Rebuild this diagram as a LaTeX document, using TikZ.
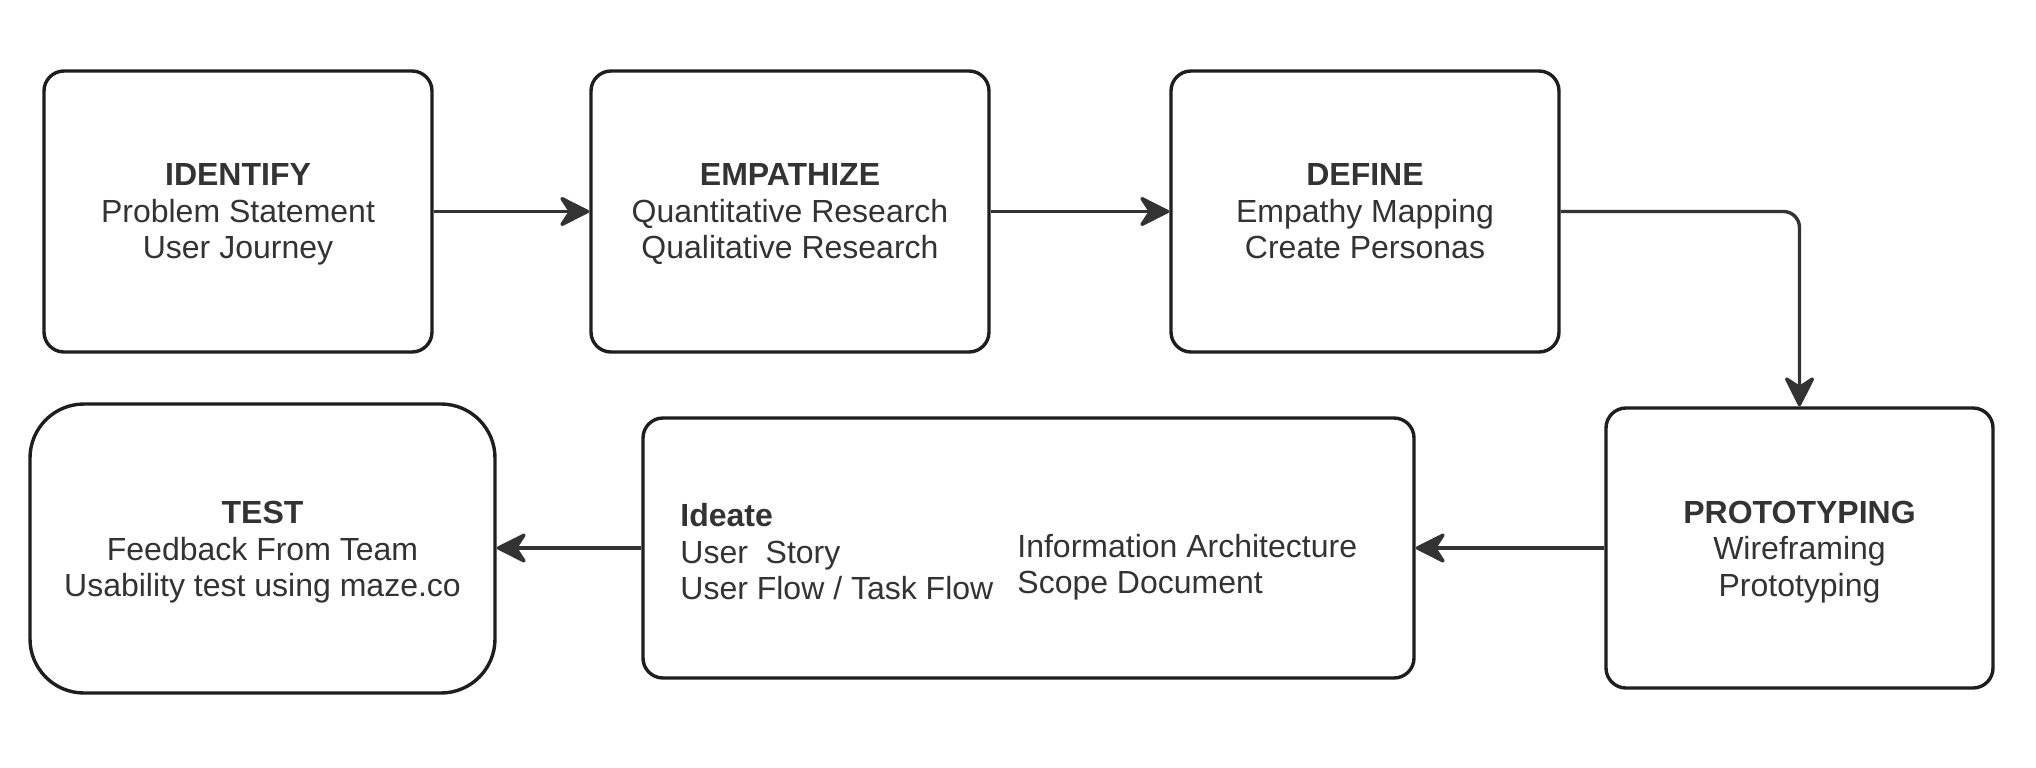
\documentclass[tikz,border=0pt]{standalone}
\usepackage{fontspec}
\setmainfont{Liberation Sans}
\usetikzlibrary{arrows.meta}
\definecolor{ink}{HTML}{333333}
\definecolor{edge}{HTML}{1E1E1E}
\tikzset{
  box/.style={draw=edge, line width=1.7pt, rectangle, rounded corners=10pt, inner sep=0pt,
    text=ink, align=center, font=\fontsize{16}{18.25}\selectfont},
  txt/.style={inner sep=0pt, text=ink, align=left, font=\fontsize{16}{18.25}\selectfont},
  arr/.style={draw=ink, line width=1.7pt, line join=round,
    -{Stealth[length=17pt, width=17pt, inset=5.5pt, round]}}
}
\begin{document}
\begin{tikzpicture}[x=0.5pt, y=-0.5pt]
\useasboundingbox[fill=white] (0,0) rectangle (2036,767);
\node[box, minimum width=194pt, minimum height=140.5pt] (identify) at (238,211.5) {};
\node[box, minimum width=199pt, minimum height=140.5pt] (empathize) at (790,211.5) {};
\node[box, minimum width=194pt, minimum height=140.5pt] (define) at (1365,211.5) {};
\node[box, minimum width=193.5pt, minimum height=140pt] (proto) at (1799.5,548) {};
\node[box, minimum width=385.5pt, minimum height=130pt] (ideate) at (1028.5,548) {};
\node[box, rounded corners=27pt, minimum width=232.5pt, minimum height=144.5pt] (test) at (262.5,548.5) {};
\node[txt, align=center] (identifyT) at (238,214.5)
  {\textbf{IDENTIFY}\\Problem Statement\\User Journey};
\node[txt, align=center] (empathizeT) at (790,214.5)
  {\textbf{EMPATHIZE}\\Quantitative Research\\Qualitative Research};
\node[txt, align=center] (defineT) at (1365,214.5)
  {\textbf{DEFINE}\\Empathy Mapping\\Create Personas\vphantom{y}};
\node[txt, align=center] (protoT) at (1799.5,552)
  {\textbf{PROTOTYPING}\\Wireframing\\Prototyping};
\node[txt, align=center] (testT) at (262.5,552.5)
  {\textbf{TEST}\\Feedback From Team\\Usability test using maze.co};
\node[txt, anchor=west] (ideL) at (680,552)
  {\textbf{Ideate}\\User\ \ Story\\User Flow / Task Flow};
\node[txt, anchor=west] (ideR) at (1017,567)
  {Information Architecture\\Scope Document};
\draw[arr] (identify.east) -- (empathize.west);
\draw[arr] (empathize.east) -- (define.west);
\draw[arr, rounded corners=8pt] (define.east) -| (proto.north);
\draw[arr] (proto.west) -- (ideate.east);
\draw[arr] (ideate.west) -- (ideate.west -| test.east);
\end{tikzpicture}
\end{document}
